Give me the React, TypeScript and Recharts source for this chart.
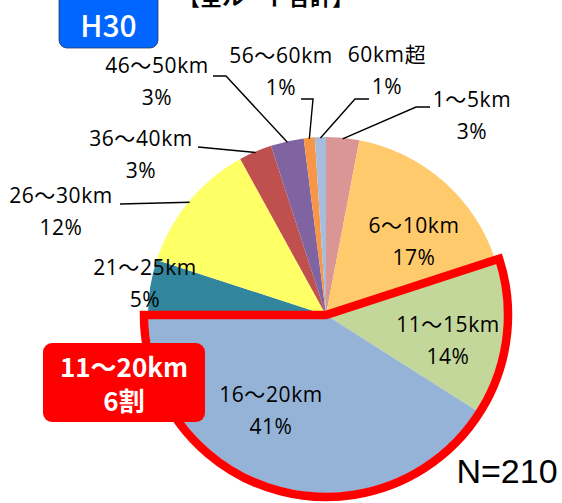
import React from 'react';
import { PieChart, Pie, Cell } from 'recharts';

// distance bands with at least one trip (31～35, 41～45, 51～55 are empty)
const categories = ['1～5km', '6～10km', '11～15km', '16～20km', '21～25km', '26～30km', '36～40km', '46～50km', '56～60km', '60km超'];
const shares = [3, 17, 14, 41, 5, 12, 3, 3, 1, 1];
const sliceColors = ['#D99694', '#FFCA6C', '#C4D79B', '#95B3D7', '#31859C', '#FFFF66', '#C0504D', '#8064A2', '#F79646', '#A6BDDD'];
const highlighted = ['11～15km', '16～20km'];
const highlightText = ['11～20km', '6割'];
const yearTag = 'H30';
const sampleSize = 210;

const W = 562;
const H = 503;
const CX = 326;
const CY = 315;
const R = 178;
const LABEL_FONT = '"Open Sans", "Noto Sans CJK JP", sans-serif';

// label text offset from the pie centre (centre x, first baseline) and leader points
const labelLayout: { dx: number; dy: number; lead?: number[][] }[] = [
  { dx: 146, dy: -208, lead: [[104, -208], [90, -208]] },
  { dx: 88, dy: -82 },
  { dx: 122, dy: 17 },
  { dx: -55, dy: 87 },
  { dx: -181, dy: -40 },
  { dx: -265, dy: -112, lead: [[-206, -111]] },
  { dx: -185, dy: -169, lead: [[-128, -168]] },
  { dx: -169, dy: -242, lead: [[-113, -239], [-100, -239]] },
  { dx: -45, dy: -252, lead: [[-25, -216], [-13, -216]] },
  { dx: 61, dy: -253, lead: [[43, -216], [29, -216]] },
];

const pieData = categories.map((name, i) => ({ name, value: shares[i] }));

const sum = (arr: number[]) => arr.reduce((a, b) => a + b, 0);
const hiIdx = highlighted.map((n) => categories.indexOf(n));
const hiStart = Math.min(...hiIdx);
const hiEnd = Math.max(...hiIdx);
const outlineData = [
  { name: 'before', value: sum(shares.slice(0, hiStart)) },
  { name: 'highlight', value: sum(shares.slice(hiStart, hiEnd + 1)) },
  { name: 'after', value: sum(shares.slice(hiEnd + 1)) },
];

const RAD = Math.PI / 180;

function renderLabel(props: any) {
  const { cx, cy, midAngle, outerRadius, index, name, value } = props;
  const lay = labelLayout[index];
  const x = cx + lay.dx;
  const y = cy + lay.dy;
  let line = null;
  if (lay.lead) {
    const ex = cx + (outerRadius - 1) * Math.cos(-midAngle * RAD);
    const ey = cy + (outerRadius - 1) * Math.sin(-midAngle * RAD);
    const pts = lay.lead.map(([px, py]) => `${cx + px},${cy + py}`).concat(`${ex},${ey}`);
    line = <polyline points={pts.join(' ')} fill="none" stroke="#000" strokeWidth={1.4} />;
  }
  const textProps = {
    textAnchor: 'middle' as const,
    fontFamily: LABEL_FONT,
    fontSize: 21,
    letterSpacing: 0.6,
    fill: '#000',
  };
  return (
    <g key={`lbl-${index}`}>
      {line}
      <text x={x} y={y} {...textProps}>
        {name}
      </text>
      <text x={x} y={y + 32} {...textProps}>
        {`${value}%`}
      </text>
    </g>
  );
}

export default function App() {
  return (
    <div style={{ position: 'absolute', left: 0, top: 0, width: W, height: H, background: '#fff' }}>
      <PieChart width={W} height={H} margin={{ top: 0, right: 0, bottom: 0, left: 0 }}>
        <Pie
          data={pieData}
          dataKey="value"
          nameKey="name"
          cx={CX}
          cy={CY}
          outerRadius={R}
          startAngle={90}
          endAngle={-270}
          stroke="none"
          label={renderLabel}
          labelLine={false}
          isAnimationActive={false}
        >
          {pieData.map((d, i) => (
            <Cell key={d.name} fill={sliceColors[i]} />
          ))}
        </Pie>
        <Pie
          data={outlineData}
          dataKey="value"
          cx={CX}
          cy={CY}
          outerRadius={R + 4}
          startAngle={90}
          endAngle={-270}
          isAnimationActive={false}
        >
          {outlineData.map((d) => (
            <Cell
              key={d.name}
              fill="none"
              stroke={d.name === 'highlight' ? '#FF0000' : 'none'}
              strokeWidth={8.5}
              strokeLinejoin="miter"
            />
          ))}
        </Pie>
      </PieChart>
      <svg width={W} height={H} style={{ position: 'absolute', left: 0, top: 0, pointerEvents: 'none' }}>
        <text x={266} y={5} textAnchor="middle" fontFamily='"Noto Sans CJK JP", sans-serif' fontWeight="bold" fontSize={22} fill="#000">
          【全ルート合計】
        </text>
        <rect x={59} y={-8} width={99} height={56} rx={8} fill="#0066FF" stroke="#2a3a5a" strokeWidth={0.8} />
        <text x={108.5} y={37} textAnchor="middle" fontFamily='"Noto Sans CJK JP", sans-serif' fontWeight={500} fontSize={30} fill="#fff">
          {yearTag}
        </text>
        <rect x={43} y={343} width={162} height={79} rx={9} fill="#FF0000" />
        <text x={124} y={377} textAnchor="middle" fontFamily='"Noto Sans CJK JP", sans-serif' fontWeight="bold" fontSize={26} fill="#fff">
          {highlightText[0]}
        </text>
        <text x={124} y={411} textAnchor="middle" fontFamily='"Noto Sans CJK JP", sans-serif' fontWeight="bold" fontSize={26} fill="#fff">
          {highlightText[1]}
        </text>
        <text x={507} y={483} textAnchor="middle" fontFamily='"Liberation Sans", Arial, sans-serif' fontSize={34} fill="#000">
          {`N=${sampleSize}`}
        </text>
      </svg>
    </div>
  );
}
